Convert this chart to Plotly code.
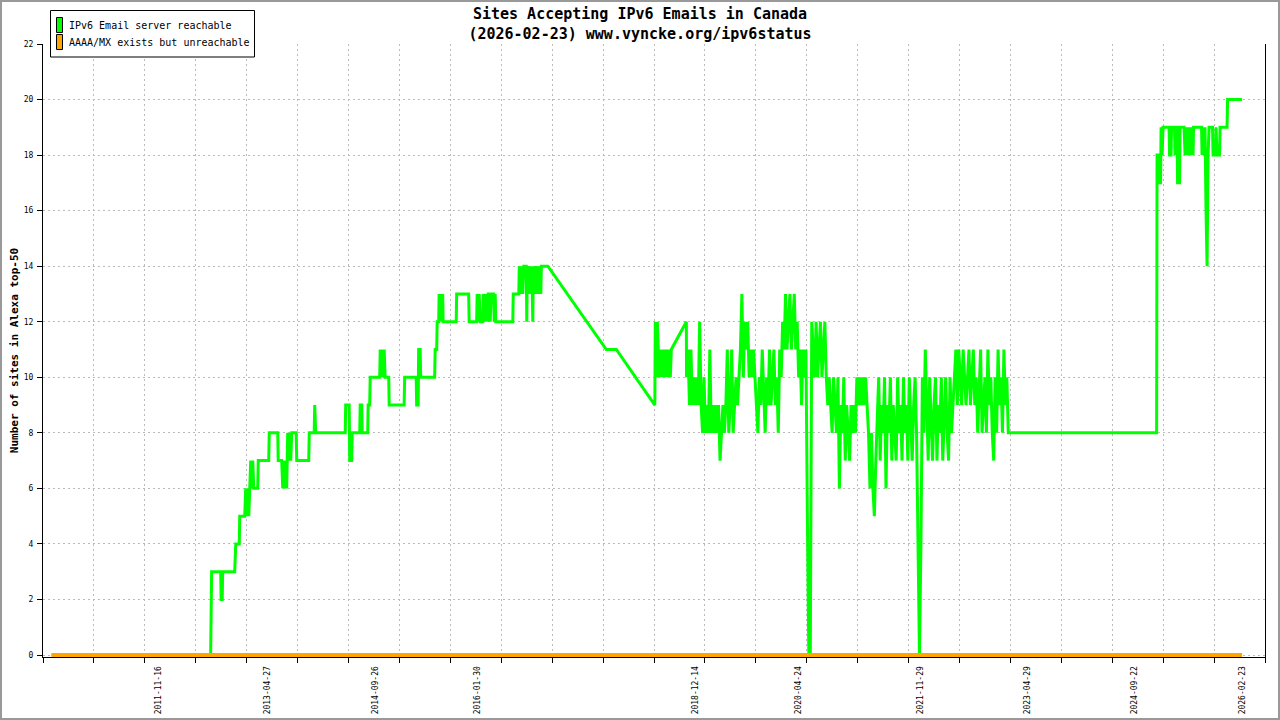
import plotly.graph_objects as go
from datetime import datetime, timedelta

# ---------------- data ----------------
title_line1 = "Sites Accepting IPv6 Emails in Canada"
title_line2 = "(2026-02-23) www.vyncke.org/ipv6status"
y_title = "Number of sites in Alexa top-50"
green_name = "IPv6 Email server reachable"
orange_name = "AAAA/MX exists but unreachable"

label_dates = ["2011-11-16", "2013-04-27", "2014-09-26", "2016-01-30", "2018-12-14",
               "2020-04-24", "2021-11-29", "2023-04-29", "2024-09-22", "2026-02-23"]

# green series, first part: time in decimal years, value
early_t = [2010.473, 2012.567, 2012.580, 2012.699, 2012.705, 2012.719, 2012.725, 2012.883, 2012.897, 2012.943,
           2012.949, 2013.015, 2013.028, 2013.041, 2013.055, 2013.068, 2013.081, 2013.094, 2013.107, 2013.120,
           2013.134, 2013.186, 2013.193, 2013.331, 2013.338, 2013.450, 2013.456, 2013.502, 2013.516, 2013.529,
           2013.542, 2013.555, 2013.568, 2013.581, 2013.595, 2013.608, 2013.621, 2013.634, 2013.693, 2013.700,
           2013.858, 2013.865, 2013.930, 2013.937, 2013.950, 2014.339, 2014.345, 2014.391, 2014.398, 2014.424,
           2014.431, 2014.530, 2014.536, 2014.556, 2014.563, 2014.635, 2014.641, 2014.661, 2014.668, 2014.793,
           2014.800, 2014.813, 2014.826, 2014.839, 2014.852, 2014.865, 2014.912, 2014.918, 2015.115, 2015.122,
           2015.274, 2015.280, 2015.300, 2015.306, 2015.326, 2015.333, 2015.517, 2015.524, 2015.544, 2015.550,
           2015.570, 2015.576, 2015.590, 2015.603, 2015.616, 2015.623, 2015.629, 2015.801, 2015.807, 2015.965,
           2015.972, 2016.070, 2016.077, 2016.090, 2016.103, 2016.117, 2016.150, 2016.156, 2016.176, 2016.189,
           2016.209, 2016.222, 2016.242, 2016.248, 2016.261, 2016.294, 2016.301, 2016.314, 2016.321, 2016.545,
           2016.551, 2016.624, 2016.630, 2016.650, 2016.663, 2016.676, 2016.689, 2016.722, 2016.729, 2016.736,
           2016.755, 2016.769, 2016.782, 2016.795, 2016.808, 2016.815, 2016.834, 2016.848, 2016.874, 2016.887,
           2016.913, 2016.920, 2017.006, 2017.776, 2017.908, 2018.415, 2018.421, 2018.435, 2018.448, 2018.461,
           2018.474, 2018.487, 2018.500, 2018.513, 2018.533, 2018.546, 2018.559, 2018.579, 2018.592, 2018.605,
           2018.619, 2018.632, 2018.830]
early_v = [0, 0, 3, 3, 2, 2, 3, 3, 4, 4,
           5, 5, 6, 5, 6, 5, 6, 7, 6, 7,
           6, 6, 7, 7, 8, 8, 7, 7, 6, 7,
           6, 7, 6, 8, 7, 8, 7, 8, 8, 7,
           7, 8, 8, 9, 8, 8, 9, 9, 7, 7,
           8, 8, 9, 9, 8, 8, 9, 9, 10, 10,
           11, 10, 11, 10, 11, 10, 10, 9, 9, 10,
           10, 9, 9, 11, 11, 10, 10, 11, 11, 12,
           12, 13, 12, 13, 12, 13, 12, 12, 13, 13,
           12, 12, 13, 12, 13, 12, 12, 13, 12, 13,
           12, 13, 13, 12, 13, 13, 12, 13, 12, 12,
           13, 13, 14, 13, 14, 13, 14, 14, 12, 14,
           13, 14, 13, 14, 12, 14, 13, 14, 13, 14,
           13, 14, 14, 11, 11, 9, 12, 10, 12, 11,
           10, 11, 10, 11, 10, 11, 10, 11, 10, 11,
           10, 11, 12]

# green series, middle part: weekly readings starting on this date
weekly_start = "2018-11-01"
weekly_v = [10, 11, 9, 11, 9, 10, 9, 10, 9, 12, 9,
            8, 10, 8, 9, 8, 11,
            8, 9, 8, 9, 8, 9, 7, 8,
            9, 8, 9, 11, 8, 9, 11, 8, 9,
            10, 9, 10,
            11, 13, 10, 12, 11, 12, 10,
            11, 10, 11, 10, 9,
            8, 10, 9, 11, 9, 8, 10,
            9, 11, 9, 10, 11, 9, 10, 8, 11, 10,
            12, 11, 13, 11, 12, 13, 11, 12, 13, 11, 12,
            10, 11, 9, 11, 10, 11,
            5, 0, 0, 12,
            11, 10, 12, 10, 11, 12, 10, 11, 12, 10,
            9, 10, 9, 8, 10, 9, 8, 10, 6,
            9, 8, 10, 7, 9, 8, 7, 9, 8, 9, 8, 10,
            9, 10, 9, 10, 9, 10, 9, 8,
            6, 8, 6, 5, 7, 9,
            10, 7, 9, 8, 10, 6, 9,
            8, 10, 7, 9, 8, 7, 10, 8, 9, 7, 10, 8, 9, 7, 10, 8, 7, 9, 10, 8,
            3, 0, 4,
            10, 8, 11, 9,
            7, 10, 8, 7, 9, 10, 7, 9, 8, 10, 7, 9, 10, 8, 7, 10, 8, 9, 10,
            11, 9, 11, 10, 9, 11, 10, 9, 10, 11, 9, 10, 11, 9, 10,
            8, 10, 11, 8, 9, 10, 8, 11, 9, 10, 8,
            7, 10, 8, 11, 9, 10, 8, 11, 9, 10, 8]

# green series, last part: decimal years, value
late_t = [2023.097, 2025.020, 2025.026, 2025.053, 2025.059, 2025.072, 2025.079, 2025.092, 2025.105, 2025.184,
          2025.191, 2025.210, 2025.217, 2025.256, 2025.263, 2025.276, 2025.289, 2025.296, 2025.322, 2025.329,
          2025.382, 2025.395, 2025.408, 2025.421, 2025.434, 2025.447, 2025.461, 2025.474, 2025.487, 2025.500,
          2025.507, 2025.612, 2025.619, 2025.632, 2025.645, 2025.658, 2025.671, 2025.685, 2025.698, 2025.711,
          2025.757, 2025.764, 2025.797, 2025.803, 2025.816, 2025.849, 2025.856, 2025.948, 2025.955, 2026.146]
late_v = [8, 8, 18, 18, 17, 17, 19, 18, 19, 19,
          18, 18, 19, 19, 18, 19, 19, 17, 17, 19,
          19, 18, 19, 18, 19, 18, 19, 18, 19, 18,
          19, 19, 18, 19, 18, 19, 16, 14, 18, 19,
          19, 18, 18, 19, 18, 18, 19, 19, 20, 20]

orange_t = [2010.473, 2026.146]
orange_v = [0, 0]

# axis extent (decimal years) and number of grid intervals
x_start, x_end, n_grid = 2010.360, 2026.448, 24
y_min, y_max = -0.072, 22


# ---------------- helpers ----------------
def dy(y):
    yr = int(y)
    a = datetime(yr, 1, 1)
    b = datetime(yr + 1, 1, 1)
    return a + (b - a) * (y - yr)


green_x = [dy(t) for t in early_t]
w0 = datetime.fromisoformat(weekly_start)
green_x += [w0 + timedelta(weeks=i) for i in range(len(weekly_v))]
green_x += [dy(t) for t in late_t]
green_y = early_v + weekly_v + late_v

orange_x = [dy(t) for t in orange_t]

GREEN = "#00FF00"
ORANGE = "#FFA500"
MONO = "DejaVu Sans Mono"

x0, x1 = dy(x_start), dy(x_end)
grid_ms = (x1 - x0).total_seconds() * 1000 / n_grid

W, H = 1280, 720
L, R, T, B = 43, 15, 44, 63
pw, ph = W - L - R, H - T - B


def px(xpix):
    return (xpix - L) / pw


def py(ypix):
    return 1 - (ypix - T) / ph


fig = go.Figure()
fig.add_trace(go.Scatter(x=green_x, y=green_y, mode="lines", name=green_name,
                         line=dict(color=GREEN, width=3), showlegend=False))
fig.add_trace(go.Scatter(x=orange_x, y=orange_v, mode="lines", name=orange_name,
                         line=dict(color=ORANGE, width=4), showlegend=False))

shapes = [
    # outer frame of the image
    dict(type="rect", xref="paper", yref="paper",
         x0=px(1), x1=px(W - 1), y0=py(H - 1), y1=py(1),
         line=dict(color="#999999", width=2), layer="above"),
    # legend box
    dict(type="rect", xref="paper", yref="paper",
         x0=px(50.5), x1=px(254.5), y0=py(57), y1=py(10.5),
         line=dict(color="black", width=1), fillcolor="white", layer="above"),
    dict(type="rect", xref="paper", yref="paper",
         x0=px(56.5), x1=px(62.5), y0=py(32.5), y1=py(17.5),
         line=dict(color="black", width=1), fillcolor=GREEN, layer="above"),
    dict(type="rect", xref="paper", yref="paper",
         x0=px(56.5), x1=px(62.5), y0=py(49.5), y1=py(34.5),
         line=dict(color="black", width=1), fillcolor=ORANGE, layer="above"),
]
annotations = [
    dict(text=green_name, xref="paper", yref="paper", x=px(67), y=py(25.5),
         xanchor="left", yanchor="middle", showarrow=False,
         font=dict(family=MONO, size=10, color="black")),
    dict(text=orange_name, xref="paper", yref="paper", x=px(67), y=py(42.5),
         xanchor="left", yanchor="middle", showarrow=False,
         font=dict(family=MONO, size=10, color="black")),
]

fig.update_layout(
    width=W, height=H,
    margin=dict(l=L, r=R, t=T, b=B, autoexpand=False),
    paper_bgcolor="white", plot_bgcolor="white",
    font=dict(family=MONO, color="black"),
    title=dict(text=title_line1 + "<br>" + title_line2, x=0.5, xanchor="center", xref="container",
               y=1 - 19 / H, yanchor="top",
               font=dict(family=MONO, size=15, color="black", weight="bold")),
    showlegend=False,
    shapes=shapes,
    annotations=annotations,
)

fig.update_xaxes(
    type="date", range=[x0, x1], automargin=False,
    tickmode="array", tickvals=label_dates, ticktext=label_dates,
    tickangle=-90, ticks="", tickfont=dict(family=MONO, size=8),
    ticklabelstandoff=5,
    showgrid=False, zeroline=False,
    showline=True, linecolor="black", linewidth=1,
    minor=dict(tick0=x0, dtick=grid_ms, ticks="outside", ticklen=5, tickcolor="black",
               showgrid=True, gridcolor="#BBBBBB", griddash="2px,3px", gridwidth=1),
)
fig.update_yaxes(
    range=[y_min, y_max], dtick=2, tick0=0, automargin=False,
    ticks="outside", ticklen=5, tickcolor="black",
    tickfont=dict(family=MONO, size=8), ticklabelstandoff=2,
    showgrid=True, gridcolor="#BBBBBB", griddash="2px,3px", gridwidth=1,
    zeroline=False, showline=True, linecolor="black", linewidth=1, mirror=True,
    title=dict(text=y_title, font=dict(family=MONO, size=11, weight="bold"), standoff=2),
)

fig.write_html("out.html", config={"displayModeBar": False},
               post_script="document.body.style.margin='0';document.body.style.overflow='hidden';")
